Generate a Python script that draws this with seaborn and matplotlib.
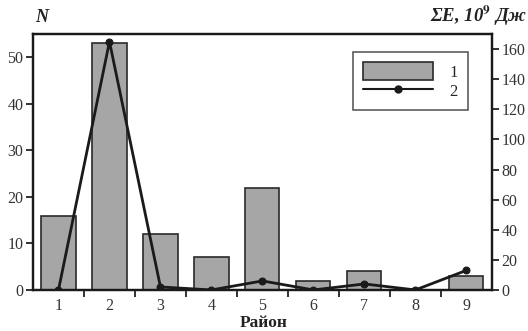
import numpy as np
import pandas as pd
import matplotlib
matplotlib.use("Agg")
import matplotlib.pyplot as plt
import seaborn as sns
from matplotlib.patches import Patch
from matplotlib.lines import Line2D

districts = ["1", "2", "3", "4", "5", "6", "7", "8", "9"]
counts_N = [16, 53, 12, 7, 22, 2, 4, 0, 3]
energy_E = [0, 165, 2, 0, 6, 0, 4, 0, 13]
left_ticks = [0, 10, 20, 30, 40, 50]
right_ticks = [0, 20, 40, 60, 80, 100, 120, 140, 160]

sns.set_theme(style="white")
plt.rcParams["font.family"] = ["Liberation Serif", "DejaVu Serif"]
plt.rcParams["mathtext.fontset"] = "stix"

df = pd.DataFrame({"district": districts, "N": counts_N, "E": energy_E})
df["pos"] = np.arange(len(districts))

fig = plt.figure(figsize=(5.28, 3.31), dpi=100)
ax = fig.add_axes([0.0625, 0.124, 0.869, 0.773])

sns.barplot(data=df, x="district", y="N", color="#a6a6a6", saturation=1,
            edgecolor="#2a2a2a", linewidth=1.2, width=0.67, ax=ax)
ax.set_ylim(0, 55)
ax.set_xlim(-0.5, 8.5)
ax.set_yticks(left_ticks)
ax.set_xticks(np.arange(len(districts)))
ax.set_xticklabels(districts)
ax.set_xticks(np.arange(len(districts) - 1) + 0.5, minor=True)
ax.tick_params(axis="x", which="major", length=0, labelsize=11.5, colors="#333333", pad=6)
ax.tick_params(axis="x", which="minor", bottom=True, length=5, width=1.3, color="#222222", direction="out")
ax.tick_params(axis="y", which="major", left=True, length=5, width=1.3, color="#222222",
               labelsize=11.5, labelcolor="#333333", pad=2)
ax.set_xlabel("")
ax.set_ylabel("")
for s in ax.spines.values():
    s.set_linewidth(1.6)
    s.set_color("#1a1a1a")

ax2 = ax.twinx()
sns.lineplot(data=df, x="pos", y="E", color="#1a1a1a", linewidth=2.0, marker="o",
             markersize=5, markeredgecolor="#1a1a1a", ax=ax2)
ax2.set_ylim(0, 170)
ax2.set_yticks(right_ticks)
ax2.set_xlim(-0.5, 8.5)
ax2.set_ylabel("")
ax2.set_xlabel("")
ax2.tick_params(axis="y", right=True, length=5, width=1.3, color="#222222",
                labelsize=11.5, labelcolor="#333333", pad=2)
for s in ax2.spines.values():
    s.set_linewidth(1.6)
    s.set_color("#1a1a1a")

fig.text(0.066, 0.935, "N", fontsize=13, fontweight="bold", fontstyle="italic", color="#222222")
fig.text(0.998, 0.935, "ΣE, 10$^{\\mathbf{9}}$ Дж", fontsize=13.5, fontweight="bold", fontstyle="italic",
         color="#222222", ha="right")
fig.text(0.5, 0.012, "Район", fontsize=12.5, fontweight="bold", color="#222222", ha="center",
         va="baseline")

handles = [Patch(facecolor="#a6a6a6", edgecolor="#2a2a2a", linewidth=1.2),
           Line2D([0], [0], color="#1a1a1a", linewidth=1.5, marker="o", markersize=5)]
leg = ax2.legend(handles, ["1", "2"], loc="upper right", bbox_to_anchor=(0.948, 0.93),
                 frameon=True, fancybox=False, fontsize=12, handlelength=4.2, handleheight=1.3,
                 borderpad=0.6, labelspacing=0.05, handletextpad=1.0, borderaxespad=0)
leg.get_frame().set_edgecolor("#333333")
leg.get_frame().set_linewidth(1.2)

fig.savefig("out.png", dpi=100)
